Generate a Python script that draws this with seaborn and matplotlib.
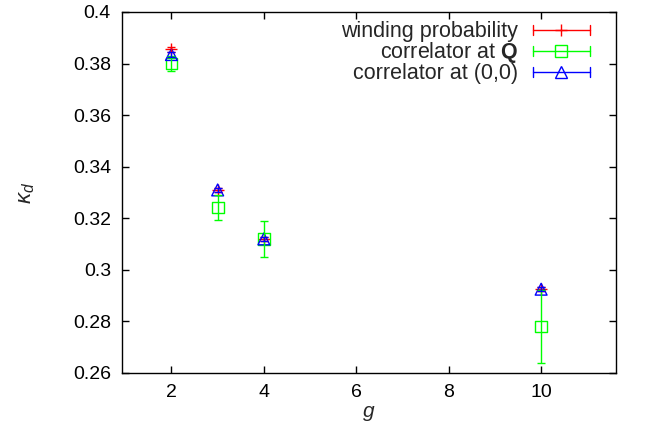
import matplotlib
matplotlib.use("Agg")
import matplotlib.pyplot as plt
import seaborn as sns
import pandas as pd
from matplotlib.legend_handler import HandlerBase
from matplotlib.lines import Line2D

# ---- data ----
g = [2, 3, 4, 10]
winding = [0.3855, 0.3310, 0.3120, 0.2925]
winding_err = [0.001, 0.0008, 0.0008, 0.0008]
corr_Q = [0.3800, 0.3242, 0.3120, 0.2780]
corr_Q_err = [0.003, 0.005, 0.007, 0.014]
corr_0 = [0.3835, 0.3310, 0.3120, 0.2925]
corr_0_err = [0.001, 0.0008, 0.0008, 0.0008]

labels = ["winding probability", r"correlator at $\mathbf{Q}$", "correlator at (0,0)"]
colors = ["#ff0000", "#00ff00", "#0000ff"]
markers = ["+", "s", "^"]
msizes = [8, 8.5, 8.5]

df = pd.DataFrame({"g": g * 3,
                   "kappa": winding + corr_Q + corr_0,
                   "err": winding_err + corr_Q_err + corr_0_err,
                   "series": [labels[0]] * 4 + [labels[1]] * 4 + [labels[2]] * 4})

sns.set_style("ticks")
plt.rcParams["font.family"] = ["Liberation Sans", "DejaVu Sans"]
plt.rcParams["mathtext.fontset"] = "custom"
plt.rcParams["mathtext.rm"] = "Liberation Sans"
plt.rcParams["mathtext.it"] = "Liberation Sans:italic"
plt.rcParams["mathtext.bf"] = "Liberation Sans:bold"

fig = plt.figure(figsize=(6.46, 4.43), dpi=100)
ax = fig.add_axes([122 / 646, 70 / 443, 494 / 646, 361 / 443])

for lab, c, m, ms in zip(labels, colors, markers, msizes):
    sub = df[df["series"] == lab]
    ax.errorbar(sub["g"], sub["kappa"], yerr=sub["err"], fmt="none",
                ecolor=c, elinewidth=1.0, capsize=3, capthick=1.0)
    sns.scatterplot(data=sub, x="g", y="kappa", ax=ax, marker=m,
                    s=ms ** 2, facecolors="none" if m != "+" else c,
                    edgecolor=c, color=c, linewidth=1.0, legend=False)


class HandlerErrH(HandlerBase):
    def create_artists(self, legend, orig_handle, xdescent, ydescent,
                       width, height, fontsize, trans):
        c = orig_handle.get_color()
        m = orig_handle.get_marker()
        ms = orig_handle.get_markersize()
        y = height / 2 - ydescent
        x0, x1 = -xdescent, width - xdescent
        cap = 3.5
        arts = [Line2D([x0, x1], [y, y], color=c, lw=1.0),
                Line2D([x0, x0], [y - cap, y + cap], color=c, lw=1.0),
                Line2D([x1, x1], [y - cap, y + cap], color=c, lw=1.0),
                Line2D([(x0 + x1) / 2], [y], marker=m, ms=ms, color=c,
                       mfc="none", mec=c, mew=1.0, lw=0)]
        for a in arts:
            a.set_transform(trans)
        return arts


handles = [Line2D([], [], color=c, marker=m, markersize=ms, mfc="none")
           for c, m, ms in zip(colors, markers, msizes)]
ax.legend(handles, labels, handler_map={Line2D: HandlerErrH()},
          loc="upper right", bbox_to_anchor=(0.956, 0.986),
          frameon=False, markerfirst=False,
          fontsize=15.5, handlelength=2.65, handletextpad=0.68,
          labelspacing=-0.09, borderaxespad=0.0, borderpad=0.2)

ax.set_xlim(0.93, 11.62)
ax.set_ylim(0.26, 0.40)
ax.set_xticks([2, 4, 6, 8, 10])
ax.set_yticks([0.26, 0.28, 0.30, 0.32, 0.34, 0.36, 0.38, 0.40])
ax.set_yticklabels(["0.26", "0.28", "0.3", "0.32", "0.34", "0.36", "0.38", "0.4"])
ax.tick_params(direction="in", length=5, width=1, top=True, right=True,
               labelsize=14, pad=8, colors="black")
for sp in ax.spines.values():
    sp.set_visible(True)
    sp.set_linewidth(1.0)
    sp.set_color("black")
ax.set_xlabel(r"$g$", fontsize=15, labelpad=2)
ax.set_ylabel(r"$\kappa_d$", fontsize=16, labelpad=26)

fig.savefig("out.png", dpi=100)
